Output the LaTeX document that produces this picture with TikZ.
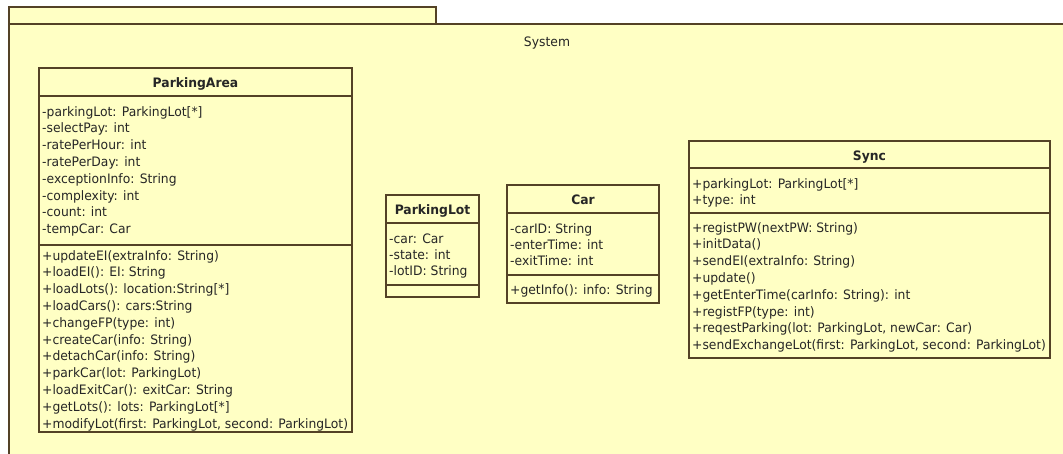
\documentclass[tikz,border=0pt]{standalone}
\usepackage{fontspec}
\setmainfont{DejaVu Sans}[FakeStretch=0.95]
\definecolor{umlfill}{RGB}{255,255,196}
\definecolor{umlline}{RGB}{84,66,38}
\tikzset{
  umlbox/.style={draw=umlline, fill=umlfill, line width=1.25pt},
  umldiv/.style={draw=umlline, line width=1.25pt},
  member/.style={anchor=base west, inner sep=0pt, font=\fontsize{13}{15}\selectfont, text=black!85},
  ctitle/.style={anchor=base, inner sep=0pt, font=\fontsize{13}{15}\selectfont\bfseries, text=black!85},
}
\begin{document}
\begin{tikzpicture}[x=1pt,y=-1pt]
\useasboundingbox (0,0) rectangle (1063,453);
\fill[white] (0,0) rectangle (1063,453);
\clip (0,0) rectangle (1063,453);
% package
\draw[umlbox] (9,7) rectangle (436,24);
\draw[umlbox] (9,24) rectangle (1075,470);
\node[member, anchor=base] (pkglabel) at (547,46) {System};

% ParkingArea
\draw[umlbox] (39,68) rectangle (352,432);
\draw[umldiv] (39,96) -- (352,96);
\draw[umldiv] (39,245) -- (352,245);
\node[ctitle] (paTitle) at (195.5,87) {ParkingArea};
\foreach \t [count=\i from 0] in {
  {-parkingLot: ParkingLot[*]},
  {-selectPay: int},
  {-ratePerHour: int},
  {-ratePerDay: int},
  {-exceptionInfo: String},
  {-complexity: int},
  {-count: int},
  {-tempCar: Car}}
  \node[member] (paA\i) at (42,{116+16.8*\i}) {\t};
\foreach \t [count=\i from 0] in {
  {+updateEI(extraInfo: String)},
  {+loadEI(): EI: String},
  {+loadLots(): location:String[*]},
  {+loadCars(): cars:String},
  {+changeFP(type: int)},
  {+createCar(info: String)},
  {+detachCar(info: String)},
  {+parkCar(lot: ParkingLot)},
  {+loadExitCar(): exitCar: String},
  {+getLots(): lots: ParkingLot[*]},
  {+modifyLot(first: ParkingLot, second: ParkingLot)}}
  \node[member] (paM\i) at (42,{260+16.8*\i}) {\t};

% ParkingLot
\draw[umlbox] (386,195) rectangle (479,297);
\draw[umldiv] (386,223) -- (479,223);
\draw[umldiv] (386,285) -- (479,285);
\node[ctitle] (plTitle) at (432.5,214) {ParkingLot};
\foreach \t [count=\i from 0] in {
  {-car: Car},
  {-state: int},
  {-lotID: String}}
  \node[member] (plA\i) at (389,{243+16.3*\i}) {\t};

% Car
\draw[umlbox] (507,185) rectangle (659,303);
\draw[umldiv] (507,213) -- (659,213);
\draw[umldiv] (507,275) -- (659,275);
\node[ctitle] (carTitle) at (583,204) {Car};
\foreach \t [count=\i from 0] in {
  {-carID: String},
  {-enterTime: int},
  {-exitTime: int}}
  \node[member] (carA\i) at (510,{233+16.3*\i}) {\t};
\node[member] (carM0) at (510,294) {+getInfo(): info: String};

% Sync
\draw[umlbox] (689,141) rectangle (1050,358);
\draw[umldiv] (689,168) -- (1050,168);
\draw[umldiv] (689,213) -- (1050,213);
\node[ctitle] (syncTitle) at (869.5,160) {Sync};
\foreach \t [count=\i from 0] in {
  {+parkingLot: ParkingLot[*]},
  {+type: int}}
  \node[member] (syA\i) at (692,{188+16.3*\i}) {\t};
\foreach \t [count=\i from 0] in {
  {+registPW(nextPW: String)},
  {+initData()},
  {+sendEI(extraInfo: String)},
  {+update()},
  {+getEnterTime(carInfo: String): int},
  {+registFP(type: int)},
  {+reqestParking(lot: ParkingLot, newCar: Car)},
  {+sendExchangeLot(first: ParkingLot, second: ParkingLot)}}
  \node[member] (syM\i) at (692,{232+16.8*\i}) {\t};
\end{tikzpicture}
\end{document}
